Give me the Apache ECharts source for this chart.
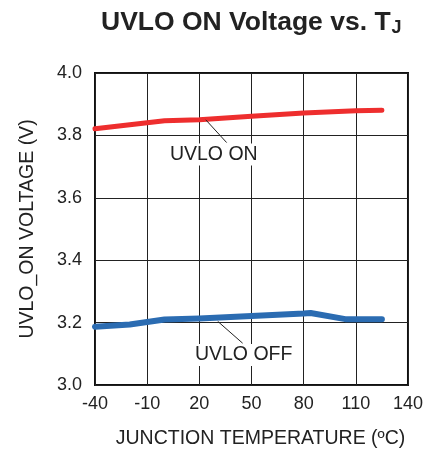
<!DOCTYPE html>
<html><head><meta charset="utf-8">
<script src="https://cdn.jsdelivr.net/npm/echarts@6/dist/echarts.min.js"></script>
<style>html,body{margin:0;padding:0;background:#fff}#c{width:426px;height:454px}</style>
</head><body><div id="c"></div>
<script>
// Data (temperature in °C, voltage in V)
const onTemps  = [-40, 0, 20, 50, 80, 110, 125];
const onVolts  = [3.821, 3.847, 3.850, 3.861, 3.872, 3.879, 3.881];
const offTemps = [-40, -20, 0, 20, 50, 80, 84, 104, 125];
const offVolts = [3.187, 3.194, 3.210, 3.213, 3.221, 3.229, 3.231, 3.211, 3.211];
const xTicks = [-40, -10, 20, 50, 80, 110, 140];
const yTicks = [3.0, 3.2, 3.4, 3.6, 3.8, 4.0];
const X0 = xTicks[0]; // axis offset so ticks start at a multiple of interval

const shift = t => t - X0;
const pts = (ts, vs) => ts.map((t, i) => [shift(t), vs[i]]);
const font = 'Liberation Sans, Arial, sans-serif';
const ann = (name, tx, ty, lx1, ly1, lx2, ly2) => ({
  markPoint: {
    symbol: 'circle', symbolSize: 0, silent: true,
    label: { show: true, position: 'inside', formatter: name, color: '#222', fontSize: 19.5,
      fontFamily: font, backgroundColor: '#fff', padding: [1, 2] },
    data: [{ coord: [shift(tx), ty] }]
  },
  markLine: {
    symbol: 'none', silent: true, label: { show: false },
    lineStyle: { color: '#222', width: 1, type: 'solid' },
    data: [[{ coord: [shift(lx1), ly1] }, { coord: [shift(lx2), ly2] }]]
  }
});

const chart = echarts.init(document.getElementById('c'), null, { renderer: 'canvas' });
chart.setOption({
  animation: false,
  backgroundColor: '#fff',
  title: {
    text: '{a|UVLO ON Voltage vs. T}{b|J}',
    left: 96, top: 3,
    textStyle: { rich: {
      a: { fontSize: 26.5, fontWeight: 'bold', fontFamily: font, color: '#222' },
      b: { fontSize: 18, fontWeight: 'bold', fontFamily: font, color: '#222', padding: [11, 0, 0, 1] }
    } }
  },
  grid: { left: 95, right: 18, top: 73, bottom: 67, show: true, borderColor: '#111', borderWidth: 2 },
  xAxis: {
    type: 'value', min: 0, max: shift(xTicks[xTicks.length - 1]), interval: xTicks[1] - xTicks[0],
    name: 'JUNCTION TEMPERATURE (ºC)', nameLocation: 'middle', nameGap: 44,
    nameTextStyle: { fontSize: 19.5, fontFamily: font, color: '#222', padding: [0, 0, 0, 18] },
    axisLine: { show: false }, axisTick: { show: false },
    axisLabel: { fontSize: 18, fontFamily: font, color: '#222', margin: 10,
      formatter: v => String(v + X0) },
    splitLine: { show: true, lineStyle: { color: '#222', width: 1 } }
  },
  yAxis: {
    type: 'value', min: yTicks[0], max: yTicks[yTicks.length - 1], interval: 0.2,
    name: 'UVLO_ON VOLTAGE (V)', nameLocation: 'middle', nameGap: 57,
    nameTextStyle: { fontSize: 19.5, fontFamily: font, color: '#222' },
    axisLine: { show: false }, axisTick: { show: false },
    axisLabel: { fontSize: 18, fontFamily: font, color: '#222', margin: 13,
      formatter: v => v.toFixed(1) },
    splitLine: { show: true, lineStyle: { color: '#222', width: 1 } }
  },
  series: [
    Object.assign({
      name: 'UVLO ON', type: 'line', data: pts(onTemps, onVolts), showSymbol: false, z: 3,
      lineStyle: { color: '#EE2E2E', width: 5, cap: 'round', join: 'round' }
    }, ann('UVLO ON', 28.3, 3.739, 23.7, 3.850, 35.7, 3.777)),
    Object.assign({
      name: 'UVLO OFF', type: 'line', data: pts(offTemps, offVolts), showSymbol: false, z: 3,
      lineStyle: { color: '#2B6CB2', width: 6, cap: 'round', join: 'round' }
    }, ann('UVLO OFF', 45.5, 3.096, 30.6, 3.204, 44.9, 3.134))
  ]
});
</script></body></html>
